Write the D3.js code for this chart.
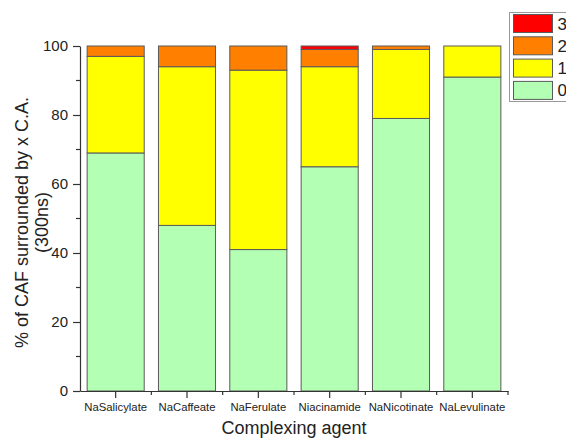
<!DOCTYPE html>
<html>
<head>
<meta charset="utf-8">
<script src="https://cdn.jsdelivr.net/npm/d3@7/dist/d3.min.js"></script>
<style>
  html, body { margin: 0; padding: 0; background: #fff; }
  svg { display: block; font-family: "Liberation Sans", Arial, sans-serif; }
</style>
</head>
<body>
<svg id="chart" width="566" height="439"></svg>
<script>
// Share (%) of caffeine molecules surrounded by x complexing-agent molecules
const categories = ["NaSalicylate", "NaCaffeate", "NaFerulate", "Niacinamide", "NaNicotinate", "NaLevulinate"];
const counts = ["0", "1", "2", "3"];
const share0 = [69, 48, 41, 65, 79, 91];
const share1 = [28, 46, 52, 29, 20, 9];
const share2 = [3, 6, 7, 5, 1, 0];
const share3 = [0, 0, 0, 1, 0, 0];
const yTicks = [0, 20, 40, 60, 80, 100];
const colors = { "0": "#b3ffb3", "1": "#ffff00", "2": "#ff8000", "3": "#ff0000" };

const rows = categories.map((c, i) => ({
  agent: c, "0": share0[i], "1": share1[i], "2": share2[i], "3": share3[i]
}));

const svg = d3.select("#chart");
const m = { left: 80, right: 508, top: 46, bottom: 391 };

const x = d3.scaleBand().domain(categories)
  .range([m.left, m.right]).paddingInner(0.2).paddingOuter(0.1);
const y = d3.scaleLinear().domain([0, 100]).range([m.bottom, m.top]);

const stacked = d3.stack().keys(counts)(rows);

// stacked bars
svg.append("g").selectAll("g").data(stacked).join("g")
  .attr("fill", d => colors[d.key])
  .selectAll("rect").data(d => d.filter(p => p[1] - p[0] > 0)).join("rect")
  .attr("x", d => x(d.data.agent))
  .attr("width", x.bandwidth())
  .attr("y", d => y(d[1]))
  .attr("height", d => y(d[0]) - y(d[1]))
  .attr("stroke", "#5a5a5a")
  .attr("stroke-width", 1);

// y axis
const yAxis = svg.append("g").attr("transform", `translate(${m.left},0)`)
  .call(d3.axisLeft(y).tickValues(yTicks).tickSize(7).tickPadding(5).tickSizeOuter(0));
yAxis.select(".domain").attr("stroke", "#333").attr("stroke-width", 1.2);
yAxis.selectAll(".tick line").attr("stroke", "#333").attr("stroke-width", 1.2);
yAxis.selectAll("text").attr("font-size", 15).attr("fill", "#222")
  .attr("font-family", "Liberation Sans, Arial, sans-serif");
// minor y ticks
svg.append("g").selectAll("line").data([10, 30, 50, 70, 90]).join("line")
  .attr("x1", m.left - 4).attr("x2", m.left)
  .attr("y1", d => y(d)).attr("y2", d => y(d))
  .attr("stroke", "#333").attr("stroke-width", 1.2);

// x axis
const xAxis = svg.append("g").attr("transform", `translate(0,${m.bottom})`)
  .call(d3.axisBottom(x).tickSize(7).tickPadding(5).tickSizeOuter(0));
xAxis.select(".domain").attr("stroke", "#333").attr("stroke-width", 1.2);
xAxis.selectAll(".tick line").attr("stroke", "#333").attr("stroke-width", 1.2);
xAxis.selectAll("text").attr("font-size", 11.3).attr("fill", "#222")
  .attr("font-family", "Liberation Sans, Arial, sans-serif");
// minor x ticks at category boundaries
const bounds = categories.slice(1).map(c => x(c) - x.step() * x.paddingInner() / 2).concat([m.right]);
svg.append("g").selectAll("line").data(bounds).join("line")
  .attr("x1", d => d).attr("x2", d => d)
  .attr("y1", m.bottom).attr("y2", m.bottom + 4)
  .attr("stroke", "#333").attr("stroke-width", 1.2);

// axis titles
svg.append("text")
  .attr("x", (m.left + m.right) / 2) .attr("y", 434)
  .attr("text-anchor", "middle").attr("font-size", 18).attr("fill", "#222")
  .text("Complexing agent");

const yt = svg.append("text")
  .attr("transform", `translate(28,${(m.top + m.bottom) / 2 + 4}) rotate(-90)`)
  .attr("text-anchor", "middle").attr("font-size", 18).attr("fill", "#222");
yt.append("tspan").attr("x", 0).attr("dy", 0).text("% of CAF surrounded by x C.A.");
yt.append("tspan").attr("x", 0).attr("dy", 20).text("(300ns)");

// legend
const lg = svg.append("g");
lg.append("rect").attr("x", 509.5).attr("y", 12.5).attr("width", 70).attr("height", 89)
  .attr("fill", "#fff").attr("stroke", "#999").attr("stroke-width", 1);
const legendKeys = counts.slice().reverse();
const li = lg.selectAll("g").data(legendKeys).join("g")
  .attr("transform", (d, i) => `translate(513.5,${14.5 + i * 22.3})`);
li.append("rect").attr("width", 39).attr("height", 18)
  .attr("fill", d => colors[d]).attr("stroke", "#5a5a5a").attr("stroke-width", 1);
li.append("text").attr("x", 44).attr("y", 15).attr("font-size", 17).attr("fill", "#222")
  .text(d => d);
</script>
</body>
</html>
